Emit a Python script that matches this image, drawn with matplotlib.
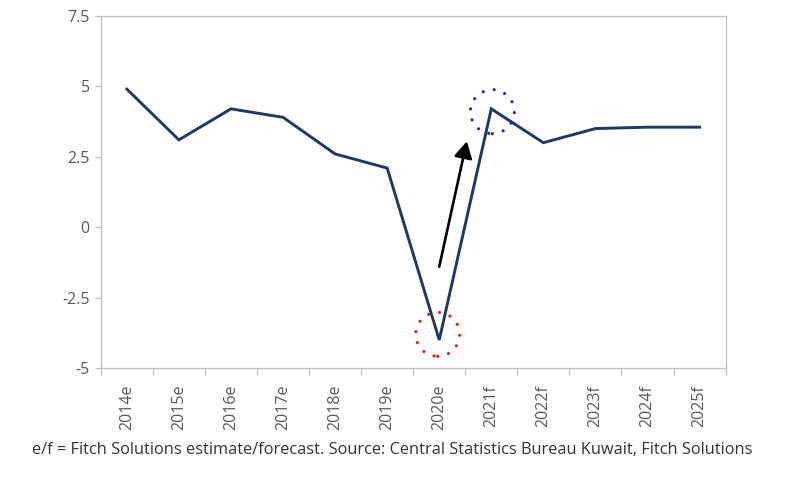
import numpy as np
import matplotlib
matplotlib.use("Agg")
import matplotlib.pyplot as plt
from matplotlib.patches import Ellipse

plt.rcParams['font.family'] = ['Open Sans', 'DejaVu Sans']

# data
years = ['2014e', '2015e', '2016e', '2017e', '2018e', '2019e', '2020e',
         '2021f', '2022f', '2023f', '2024f', '2025f']
growth = [4.9, 3.1, 4.2, 3.9, 2.6, 2.1, -4.0, 4.2, 3.0, 3.5, 3.55, 3.55]
yticks = [-5, -2.5, 0, 2.5, 5, 7.5]
ytick_labels = ['-5', '-2.5', '0', '2.5', '5', '7.5']

grey = '#bfbfbf'
txt = '#595959'

fig = plt.figure(figsize=(8, 4.8), dpi=100)
ax = fig.add_axes([0.126, 0.233, 0.781, 0.734])

x = np.arange(len(years))
ax.plot(x, growth, color='#1f3864', lw=2.1, solid_joinstyle='miter', zorder=3)

ax.set_xlim(-0.5, len(years) - 0.5)
ax.set_ylim(-5, 7.5)

# ticks at category boundaries, labels at centres
ax.set_xticks(np.arange(-0.5, len(years)), [''] * (len(years) + 1))
ax.set_xticks(x, years, minor=True, rotation=90)
ax.tick_params(axis='x', which='major', length=5, color=grey, width=0.9)
ax.tick_params(axis='x', which='minor', length=0, pad=12, labelsize=11.5, labelcolor=txt)
for lab in ax.get_xticklabels(minor=True):
    lab.set_x(lab.get_position()[0] - 0.08)
ax.set_yticks(yticks, ytick_labels)
ax.tick_params(axis='y', length=4, color=grey, width=0.9, labelsize=11.5, labelcolor=txt, pad=4)

for s in ax.spines.values():
    s.set_color(grey)
    s.set_linewidth(0.9)

# dotted circles (sized in pixels -> data units)
px_x = (ax.get_position().width * 800) / len(years)
px_y = (ax.get_position().height * 480) / 12.5
d = 44
for cx, cy, col in [(5.97, -3.8, '#e02020'), (7.02, 4.1, '#2020d0')]:
    ax.add_patch(Ellipse((cx, cy), d / px_x, d / px_y, fill=False, edgecolor=col,
                         lw=2.3, linestyle=(0, (0.01, 3.5)), capstyle='round', zorder=4))

# arrow
ax.annotate('', xy=(6.53, 3.05), xytext=(6.0, -1.4),
            arrowprops=dict(arrowstyle='-|>,head_length=1.0,head_width=0.55',
                            color='black', lw=1.9, shrinkA=0, shrinkB=0), zorder=5)

fig.text(0.49, 0.062, 'e/f = Fitch Solutions estimate/forecast. Source: Central Statistics Bureau Kuwait, Fitch Solutions',
         ha='center', va='center', fontsize=11.8, color='#333333')

fig.savefig('out.png', dpi=100)
